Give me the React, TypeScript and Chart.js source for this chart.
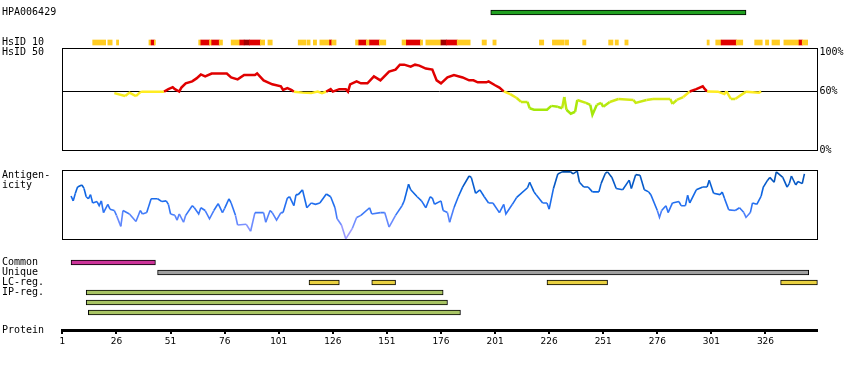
import React, { useEffect, useRef } from 'react';
import { Chart, registerables } from 'chart.js';

Chart.register(...registerables);

// ---------------- data ----------------
const proteinStart = 1;
const proteinEnd = 350;
const proteinTicks = [1, 26, 51, 76, 101, 126, 151, 176, 201, 226, 251, 276, 301, 326];

const topRowLabels = ['HPA006429', 'HsID 10'];
const hpaRange = [199, 317];

const hsid10Start = [
  15, 22, 26, 41, 42, 43.5, 64, 65, 69, 70, 73.5, 79, 83, 85, 87.5, 92.5, 96,
  110, 114, 117, 120, 124.5, 125.5, 136.5, 138, 141.5, 143, 147.5, 158, 160, 166.5,
  169, 176, 178.5, 183.5, 195, 200, 221.5, 227.5, 233.5, 241.5, 253.5, 256.5, 261, 299,
  303, 305.5, 312.5, 321, 326, 329, 334.5, 341.5, 343,
];
const hsid10End = [
  21, 24, 27, 42, 43.5, 44, 65, 69, 70, 73.5, 75, 83, 85, 87.5, 92.5, 94.5, 98,
  113.5, 115.5, 118.5, 124.5, 125.5, 127.5, 138, 141.5, 143, 147.5, 150.5, 160, 166.5, 167.5,
  176, 178.5, 183.5, 189.5, 197, 201.5, 223.5, 233, 235, 243, 255.5, 258, 262.5, 300,
  305.5, 312.5, 315.5, 324.5, 327.5, 332.5, 341.5, 343, 345.5,
];
const hsid10Level = [
  'Y', 'Y', 'Y', 'Y', 'R', 'Y', 'Y', 'R', 'Y', 'R', 'Y', 'Y', 'R', 'D', 'R', 'Y', 'Y',
  'Y', 'Y', 'Y', 'Y', 'R', 'Y', 'Y', 'R', 'Y', 'R', 'Y', 'Y', 'R', 'Y',
  'Y', 'D', 'R', 'Y', 'Y', 'Y', 'Y', 'Y', 'Y', 'Y', 'Y', 'Y', 'Y', 'Y',
  'Y', 'R', 'Y', 'Y', 'Y', 'Y', 'Y', 'R', 'Y',
];

const hsid50Label = 'HsID 50';
const hsid50Ticks = [0, 60, 100];
const hsid50Res = [
  25, 30, 32, 35, 37, 38, 48, 50, 52, 53, 55, 56, 58, 61, 63, 65, 67, 70, 77, 79, 82, 85, 90, 91, 94, 98,
  102, 103, 105, 107, 108, 112, 116, 119, 121, 123, 125, 126, 129, 132, 133, 134, 137, 139,
  142, 145, 148, 152, 155, 157, 159, 162, 164, 166, 169, 172, 174, 176, 179, 182, 186, 189, 191, 193, 197, 198,
  201, 203, 205, 208, 211, 213, 216, 217, 219, 225, 227, 230, 232, 233, 234, 236, 238, 239,
  243, 245, 246, 248, 250, 251, 254, 258, 265, 266, 271, 274, 282, 283, 285, 288,
  291, 294, 297, 298, 299, 304, 307, 308, 310, 312, 317, 323, 324,
];
const hsid50Val = [
  58, 55, 58.5, 55, 59, 59.5, 59.5, 62, 64, 62, 59.5, 63.6, 68, 70, 73, 77, 75, 78, 78, 74, 72, 76.5, 76.5, 78, 71, 67,
  65, 61.2, 63, 61.2, 59.5, 58.5, 58, 59.6, 58, 59.6, 62, 59.5, 62, 62, 59.5, 67, 70, 68,
  68, 75, 71, 80, 82, 87, 87, 85, 87, 86, 83, 82, 71, 68, 74, 76.5, 74, 71, 71, 69, 69, 70,
  66, 63.6, 59.8, 57, 53, 49, 49, 42.6, 41, 41, 45, 44, 42.6, 54, 41, 37, 39, 51,
  48, 46, 36, 46, 48, 44, 49, 52, 51, 48, 51, 52, 52, 47, 51, 54,
  59.7, 62, 65, 62, 59.7, 59.5, 57, 59.8, 52, 52, 59.5, 58.5, 59.8,
];

const antigenLabel = ['Antigen-', 'icity'];
const antigenRes = [
  5, 6, 7, 8, 10, 11, 12, 13, 14, 15,
  17, 18, 19, 20, 22, 23, 25, 26, 28, 29,
  32, 35, 37, 38, 40, 42, 45, 47, 49, 50,
  51, 53, 54, 55, 57, 58, 61, 62, 64, 65,
  67, 69, 71, 73, 75, 76, 78, 79, 81, 82,
  86, 88, 90, 94, 95, 97, 98, 100, 102, 103,
  105, 106, 108, 109, 110, 112, 114, 116, 118, 120,
  123, 125, 127, 128, 130, 132, 135, 137, 139, 143,
  144, 148, 150, 152, 155, 158, 159, 161, 162, 165,
  167, 169, 171, 172, 173, 176, 177, 179, 180, 182,
  184, 186, 189, 190, 192, 194, 196, 198, 200, 203,
  205, 206, 209, 211, 216, 217, 219, 220, 223, 225,
  226, 228, 230, 232, 236, 237, 239, 240, 242, 244,
  246, 249, 250, 252, 253, 255, 257, 260, 263, 264,
  266, 268, 270, 272, 273, 276, 277, 278, 280, 281,
  283, 286, 287, 289, 290, 291, 294, 297, 299, 300,
  302, 305, 306, 307, 309, 312, 314, 316, 317, 319,
  320, 322, 324, 325, 327, 328, 330, 331, 334, 336,
  337, 338, 340, 341, 343, 344,
];
const antigenVal = [
  63, 56, 67, 76, 79, 74, 62, 59, 65, 53,
  55, 49, 56, 39, 51, 44, 42, 35, 19, 42,
  37, 26, 42, 37, 39, 59, 59, 55, 56, 51,
  37, 35, 28, 37, 25, 35, 49, 46, 37, 46,
  42, 30, 42, 52, 39, 45, 59, 53, 35, 21,
  22, 12, 39, 39, 25, 42, 39, 28, 39, 39,
  60, 62, 49, 65, 65, 72, 46, 53, 51, 53,
  66, 62, 46, 30, 21, 1, 16, 32, 35, 46,
  37, 39, 39, 18, 35, 49, 56, 80, 72, 62,
  56, 46, 62, 60, 51, 56, 42, 39, 25, 46,
  62, 76, 92, 90, 67, 72, 62, 53, 53, 39,
  51, 37, 51, 61, 75, 83, 69, 65, 53, 53,
  44, 74, 95, 98, 98, 95, 99, 83, 76, 76,
  69, 69, 81, 96, 98, 90, 74, 72, 86, 74,
  94, 93, 72, 69, 65, 42, 32, 42, 49, 39,
  53, 55, 49, 49, 64, 53, 72, 76, 76, 86,
  67, 65, 69, 60, 43, 42, 46, 39, 32, 39,
  53, 51, 63, 76, 86, 90, 83, 98, 90, 76,
  81, 92, 79, 84, 81, 95,
];

const featureRowLabels = ['Common', 'Unique', 'LC-reg.', 'IP-reg.'];
const commonRanges = [[5, 44]];
const uniqueRanges = [[45, 346]];
const lcRanges = [[115, 129], [144, 155], [225, 253], [333, 350]];
const ipRanges = [[12, 177], [12, 179], [13, 185]];
const ipRows = [3, 4, 5];
const proteinLabel = 'Protein';

// ---------------- styles ----------------
const MONO = "'DejaVu Sans Mono', monospace";
const SANS = "'DejaVu Sans', sans-serif";
const PAD_LEFT = 2;
const AXIS_W = 60.4;
const RIGHT_W = 32.6;
const BLACK = '#000000';
const labelFont = { family: MONO, size: 10, lineHeight: 1.05 };
const hsid10Colors: any = { Y: '#FFCC22', R: '#E00000', D: '#A00000' };

function lerp(a: number, b: number, t: number) { return a + (b - a) * t; }

function hsidColor(v: number) {
  if (v >= 60) return '#E00000';
  const t = Math.min(1, Math.max(0, (58 - v) / 14));
  return `rgb(${Math.round(lerp(255, 165, t))},${Math.round(lerp(236, 232, t))},${Math.round(lerp(34, 10, t))})`;
}

const antigenStops: [number, number[]][] = [
  [0, [185, 165, 255]],
  [25, [110, 140, 255]],
  [45, [45, 115, 245]],
  [70, [10, 100, 225]],
  [100, [0, 75, 165]],
];
function antigenColor(v: number) {
  for (let i = 1; i < antigenStops.length; i++) {
    const [v1, c1] = antigenStops[i];
    const [v0, c0] = antigenStops[i - 1];
    if (v <= v1 || i === antigenStops.length - 1) {
      const t = Math.min(1, Math.max(0, (v - v0) / (v1 - v0)));
      return `rgb(${Math.round(lerp(c0[0], c1[0], t))},${Math.round(lerp(c0[1], c1[1], t))},${Math.round(lerp(c0[2], c1[2], t))})`;
    }
  }
  return 'rgb(0,75,165)';
}

const baseOptions = (padding: any) => ({
  animation: false,
  responsive: false,
  events: [],
  layout: { padding },
  plugins: { legend: { display: false }, tooltip: { enabled: false } },
});

function frameX(position: string) {
  return {
    type: 'linear', position, min: proteinStart, max: proteinEnd,
    ticks: { display: false },
    grid: { display: false, drawTicks: false, tickLength: 0 },
    border: { display: true, color: BLACK, width: 1 },
    afterFit: (s: any) => { s.height = 0; },
  };
}

function leftLabelAxis(min: number, max: number, tickValue: number, label: any) {
  return {
    type: 'linear', position: 'left', min, max,
    afterBuildTicks: (a: any) => { a.ticks = [{ value: tickValue }]; },
    ticks: { callback: () => label, crossAlign: 'far', font: labelFont, color: BLACK, autoSkip: false, padding: 0 },
    grid: { display: false, drawTicks: false, tickLength: 0 },
    border: { display: true, color: BLACK, width: 1 },
    afterFit: (s: any) => { s.width = AXIS_W; },
  };
}

// ---------------- chart configs ----------------
function topConfig(): any {
  return {
    type: 'bar',
    data: {
      labels: topRowLabels,
      datasets: [
        {
          data: [{ y: topRowLabels[0], x: hpaRange }],
          backgroundColor: '#20A020', borderColor: BLACK, borderWidth: 1, borderSkipped: false,
          grouped: false, maxBarThickness: 5, barPercentage: 1, categoryPercentage: 1, clip: false,
        },
        {
          data: hsid10Start.map((s, i) => ({ y: topRowLabels[1], x: [s, hsid10End[i]] })),
          backgroundColor: hsid10Level.map((l) => hsid10Colors[l]), borderWidth: 0,
          grouped: false, maxBarThickness: 5, barPercentage: 1, categoryPercentage: 1, clip: false,
        },
      ],
    },
    options: {
      ...baseOptions({ left: PAD_LEFT, right: RIGHT_W, top: 12.5, bottom: 7.5 }),
      indexAxis: 'y',
      scales: {
        x: { type: 'linear', min: proteinStart, max: proteinEnd, display: false },
        y: {
          type: 'category', position: 'left', offset: false,
          ticks: { crossAlign: 'far', font: labelFont, color: BLACK, autoSkip: false, padding: 0 },
          grid: { display: false, drawTicks: false, tickLength: 0 },
          border: { display: false },
          afterFit: (s: any) => { s.width = AXIS_W; },
        },
      },
    },
  };
}

function hsidConfig(): any {
  return {
    type: 'line',
    data: {
      datasets: [{
        data: hsid50Res.map((r, i) => ({ x: r, y: hsid50Val[i] })),
        borderWidth: 2.5, pointRadius: 0, borderColor: '#E00000', xAxisID: 'x', yAxisID: 'y',
        segment: { borderColor: (c: any) => hsidColor((c.p0.parsed.y + c.p1.parsed.y) / 2) },
      }],
    },
    options: {
      ...baseOptions({ left: PAD_LEFT, right: 0, top: 8, bottom: 10 }),
      scales: {
        x: frameX('bottom'),
        xTop: frameX('top'),
        yLeft: leftLabelAxis(0, 104, 100, hsid50Label),
        y: {
          type: 'linear', position: 'right', min: 0, max: 104,
          afterBuildTicks: (a: any) => { a.ticks = hsid50Ticks.map((v) => ({ value: v })); },
          ticks: { callback: (v: any) => v + '%', font: labelFont, color: BLACK, autoSkip: false, padding: 2 },
          grid: {
            drawTicks: false, tickLength: 0, lineWidth: 1,
            color: (c: any) => (c.tick && c.tick.value === 60 ? BLACK : 'rgba(0,0,0,0)'),
          },
          border: { display: true, color: BLACK, width: 1 },
          afterFit: (s: any) => { s.width = RIGHT_W; },
        },
      },
    },
  };
}

function antigenConfig(): any {
  return {
    type: 'line',
    data: {
      datasets: [{
        data: antigenRes.map((r, i) => ({ x: r, y: antigenVal[i] })),
        borderWidth: 1.6, pointRadius: 0, borderColor: '#1464DC', xAxisID: 'x', yAxisID: 'y',
        segment: { borderColor: (c: any) => antigenColor((c.p0.parsed.y + c.p1.parsed.y) / 2) },
      }],
    },
    options: {
      ...baseOptions({ left: PAD_LEFT, right: RIGHT_W, top: 8, bottom: 10 }),
      scales: {
        x: frameX('bottom'),
        xTop: frameX('top'),
        y: leftLabelAxis(0, 100, 86, antigenLabel),
        yRight: {
          type: 'linear', position: 'right', min: 0, max: 100,
          ticks: { display: false },
          grid: { display: false, drawTicks: false, tickLength: 0 },
          border: { display: true, color: BLACK, width: 1 },
          afterFit: (s: any) => { s.width = 0; },
        },
      },
    },
  };
}

function featureConfig(): any {
  const barBase = {
    borderColor: BLACK, borderWidth: 1, borderSkipped: false, grouped: false,
    maxBarThickness: 5, barPercentage: 1, categoryPercentage: 1, clip: false,
  };
  return {
    type: 'bar',
    data: {
      datasets: [
        { ...barBase, data: commonRanges.map((r) => ({ y: 0, x: r })), backgroundColor: '#CC3399' },
        { ...barBase, data: uniqueRanges.map((r) => ({ y: 1, x: r })), backgroundColor: '#A0A0A0' },
        { ...barBase, data: lcRanges.map((r) => ({ y: 2, x: r })), backgroundColor: '#E8D040' },
        { ...barBase, data: ipRanges.map((r, i) => ({ y: ipRows[i], x: r })), backgroundColor: '#A8C464' },
      ],
    },
    options: {
      ...baseOptions({ left: PAD_LEFT, right: RIGHT_W, top: 7, bottom: 0 }),
      indexAxis: 'y',
      scales: {
        x: {
          type: 'linear', position: 'bottom', min: proteinStart, max: proteinEnd,
          afterBuildTicks: (a: any) => { a.ticks = proteinTicks.map((v) => ({ value: v })); },
          ticks: {
            callback: (v: any) => String(v), font: { family: SANS, size: 9 }, color: BLACK,
            autoSkip: false, maxRotation: 0, padding: 2,
          },
          grid: { display: true, drawOnChartArea: false, drawTicks: true, tickLength: 4, color: BLACK, lineWidth: 2 },
          border: { display: true, color: BLACK, width: 3 },
          afterFit: (s: any) => { s.height = 20; },
        },
        y: {
          type: 'linear', position: 'left', reverse: true, offset: false, min: -0.55, max: 6.75,
          afterBuildTicks: (a: any) => {
            a.ticks = [...featureRowLabels.map((_, i) => ({ value: i })), { value: 6.75 }];
          },
          ticks: {
            callback: (v: any) => (v < featureRowLabels.length ? featureRowLabels[v] : proteinLabel),
            crossAlign: 'far', font: labelFont, color: BLACK, autoSkip: false, padding: 0,
          },
          grid: { display: false, drawTicks: false, tickLength: 0 },
          border: { display: false },
          afterFit: (s: any) => { s.width = AXIS_W; },
        },
      },
    },
  };
}

function ChartCanvas({ top, height, makeConfig }: { top: number; height: number; makeConfig: () => any }) {
  const ref = useRef<HTMLCanvasElement | null>(null);
  useEffect(() => {
    if (!ref.current) return;
    const chart = new Chart(ref.current, makeConfig());
    return () => chart.destroy();
  }, []);
  return (
    <canvas
      ref={ref}
      width={850}
      height={height}
      style={{ position: 'absolute', left: 0, top, width: 850, height, display: 'block' }}
    />
  );
}

export default function App() {
  return (
    <div style={{ position: 'absolute', left: 0, top: 0, width: 850, height: 370, background: '#ffffff', overflow: 'hidden' }}>
      <ChartCanvas top={40} height={120} makeConfig={hsidConfig} />
      <ChartCanvas top={160} height={90} makeConfig={antigenConfig} />
      <ChartCanvas top={250} height={100} makeConfig={featureConfig} />
      <ChartCanvas top={0} height={50} makeConfig={topConfig} />
    </div>
  );
}
